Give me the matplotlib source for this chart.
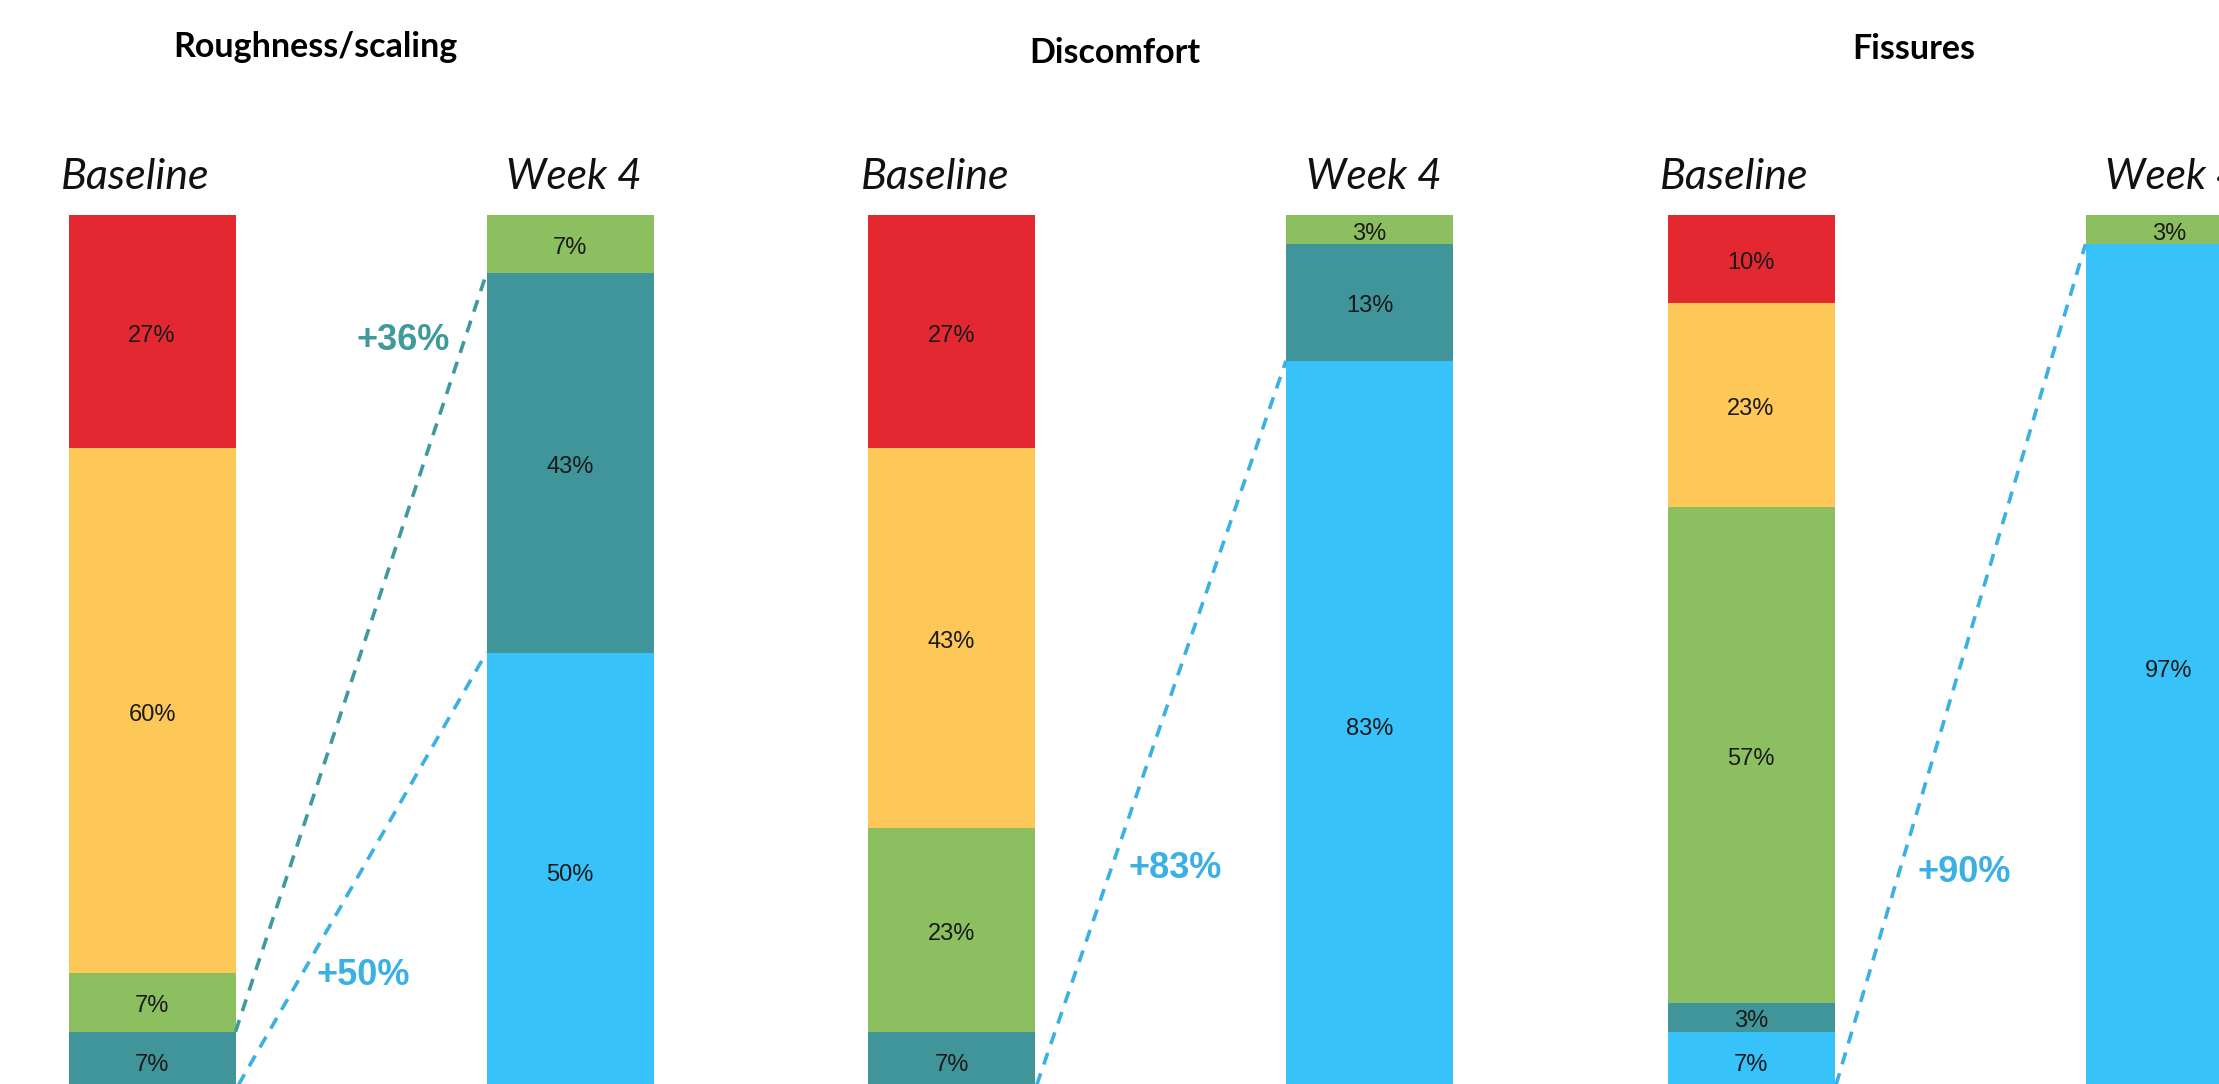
"""
Stacked severity bars, baseline vs week 4, for three skin signs.
Dashed lines and coloured labels show how much each grade gained.
"""

import matplotlib
matplotlib.use("Agg")
import matplotlib.pyplot as plt

plt.rcParams['font.family'] = ['Liberation Sans', 'DejaVu Sans']

# data: number of subjects per grade (n = 30), from grade 0 (bottom) to grade 4 (top)
n_subjects = 30
panel_titles = ['Roughness/scaling', 'Discomfort', 'Fissures']
time_labels = ['Baseline', 'Week 4']
roughness_counts = [[0, 2, 2, 18, 8], [15, 13, 2, 0, 0]]
discomfort_counts = [[0, 2, 7, 13, 8], [25, 4, 1, 0, 0]]
fissures_counts = [[2, 1, 17, 7, 3], [29, 0, 1, 0, 0]]
# grades whose gain is marked with a dashed line, per panel
linked_grades = [[1, 0], [0], [0]]

grade_colors = ['#37C3F9', '#3F9599', '#8CBF5F', '#FDC857', '#E32832']
gain_colors = {0: '#3AB0E3', 1: '#3E9A9B'}

# layout, in pixels of the 2219x1084 picture
FIG_W, FIG_H = 2219, 1084
first_center = 152
panel_step = 799.5
pair_gap = 418
bar_px = 167
top_px = 215
zero_px = 1090
label_px = 177
title_pxs = [47, 53, 49]
# where the gain labels sit, in panel units (x) and percent (y)
gain_label_pos = [[(0.60, 85.6), (0.505, 13.1)], [(0.535, 25.3)], [(0.51, 24.9)]]


def pct(count):
    return 100.0 * count / n_subjects


def draw_panel(ax, title, title_px, counts, links, label_pos):
    '''
    Draws one pair of stacked bars with the gain lines between them.
    '''
    width = bar_px / pair_gap
    for x, grade_counts in enumerate(counts):
        bottom = 0.0
        for grade, c in enumerate(grade_counts):
            h = pct(c)
            if c > 0:
                ax.bar(x, h, bottom=bottom, width=width, color=grade_colors[grade],
                       edgecolor='none', linewidth=0)
                ax.text(x, bottom + h / 2 - 0.45, f"{round(h)}%", ha='center', va='center',
                        fontsize=17, color='#1a1a1a')
            bottom += h

    label_y = (zero_px - label_px) / ((zero_px - top_px) / 100)
    title_y = (zero_px - title_px) / ((zero_px - top_px) / 100)
    ax.text(-0.04, label_y, time_labels[0], ha='center', va='center',
            fontsize=31, style='italic', family='Lato', color='#111111')
    ax.text(1.01, label_y, time_labels[1], ha='center', va='center',
            fontsize=30.5, style='italic', family='Lato', color='#111111')
    ax.text(0.39, title_y, title, ha='center', va='center',
            fontsize=24.5, fontweight='bold', family='Lato', color='black')

    base, week4 = counts
    for grade, (lx, ly) in zip(links, label_pos):
        start = pct(sum(base[1:grade + 1]))
        end = pct(sum(week4[:grade + 1]))
        ax.plot([width / 2, 1 - width / 2], [start, end], color=gain_colors[grade],
                linewidth=2.6, linestyle=(0, (3.4, 2.6)), solid_capstyle='butt')
        gain = round(pct(week4[grade])) - round(pct(base[grade]))
        ax.text(lx, ly, f"+{gain}%", ha='center', va='center', fontsize=26,
                fontweight='bold', color=gain_colors[grade])


fig = plt.figure(figsize=(FIG_W / 100, FIG_H / 100), dpi=100)
all_counts = [roughness_counts, discomfort_counts, fissures_counts]
px_per_pct = (zero_px - top_px) / 100

for i, title in enumerate(panel_titles):
    center0 = first_center + i * panel_step
    x_lo, x_hi = -0.4, 1.4
    left = (center0 + x_lo * pair_gap) / FIG_W
    span = (x_hi - x_lo) * pair_gap / FIG_W
    ax = fig.add_axes([left, 0, span, 1])
    ax.set_xlim(x_lo, x_hi)
    ax.set_ylim((zero_px - FIG_H) / px_per_pct, zero_px / px_per_pct)
    ax.axis('off')
    ax.patch.set_alpha(0)
    draw_panel(ax, title, title_pxs[i], all_counts[i], linked_grades[i], gain_label_pos[i])

fig.savefig('out.png', dpi=100, facecolor='white')
